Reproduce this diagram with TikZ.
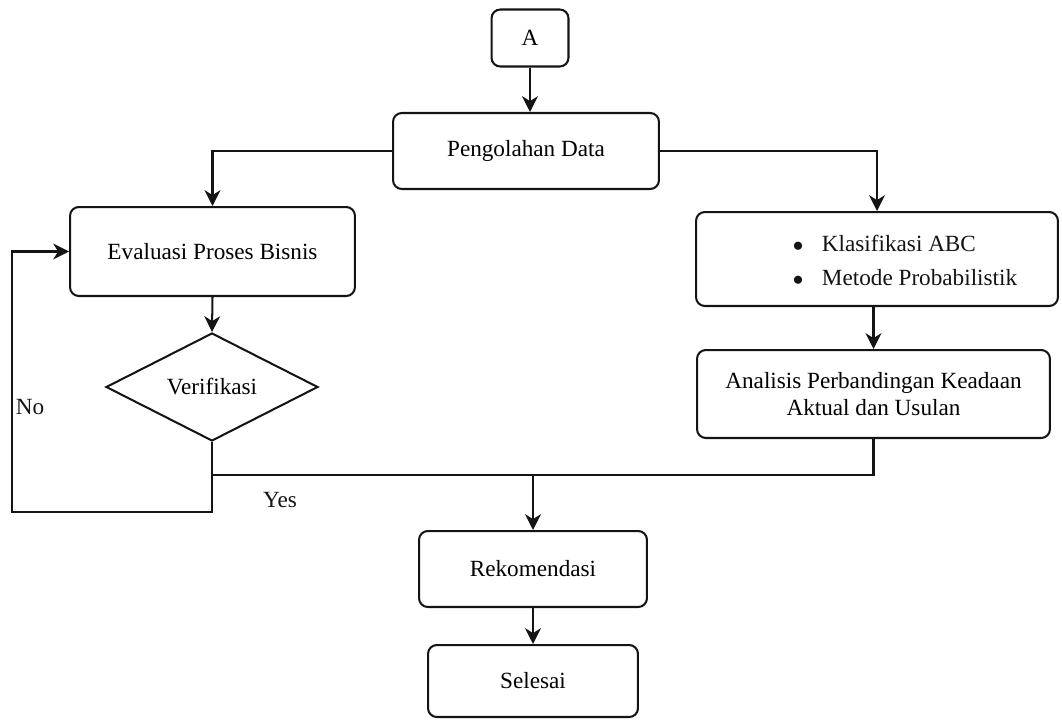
\documentclass[tikz,border=0pt]{standalone}
\usepackage{fontspec}
\setmainfont{Liberation Serif}
\usepackage{tikz}
\usetikzlibrary{shapes.geometric, arrows.meta, positioning, calc}
\definecolor{mydark}{RGB}{20,20,20}
\tikzset{
  block/.style={rectangle, draw=mydark, fill=white, align=center,
    rounded corners=5pt, line width=1.15pt, inner sep=0pt},
  decision/.style={diamond, draw=mydark, fill=white, align=center,
    line width=1.15pt, inner sep=0pt, shape aspect=2},
  arrow/.style={-{Stealth[length=9pt, width=9pt, inset=2.8pt]}, line width=1.15pt, color=mydark},
  line/.style={line width=1.15pt, color=mydark},
  lbl/.style={font=\fontsize{13.2}{15.4}\selectfont, text=mydark}
}

\begin{document}
\begin{tikzpicture}[x=0.02cm, y=-0.02cm, font=\fontsize{13.2}{15.4}\selectfont]
  \useasboundingbox (0,0) rectangle (1062,720);

  % Start connector
  \node[block, minimum width=1.54cm, minimum height=1.14cm] (A) at (530,38) {A};

  % Data processing
  \node[block, minimum width=5.32cm, minimum height=1.52cm] (peng) at (526,151) {Pengolahan Data};

  % Left branch
  \node[block, minimum width=5.7cm, minimum height=1.78cm] (eval) at (212.5,251.5) {Evaluasi Proses Bisnis};
  \node[decision, minimum width=4.24cm, minimum height=2.16cm] (verif) at (212,387) {Verifikasi};

  % Right branch
  \node[block, minimum width=7.24cm, minimum height=1.88cm] (klas) at (877,259) {};
  \node[lbl, align=left] (klastext) at (905,260)
    {$\bullet$\hspace{0.8em}Klasifikasi ABC\\[4pt] $\bullet$\hspace{0.8em}Metode Probabilistik};
  \node[block, minimum width=7.06cm, minimum height=1.76cm] (anal) at (873.5,394)
    {Analisis Perbandingan Keadaan\\ Aktual dan Usulan};

  % Result
  \node[block, minimum width=4.56cm, minimum height=1.52cm] (rekom) at (533,569) {Rekomendasi};
  \node[block, minimum width=4.2cm, minimum height=1.44cm] (selesai) at (533,681) {Selesai};

  % Helper points
  \coordinate (join) at (533,475);
  \coordinate (loopbot) at (12,512);

  % Connectors
  \draw[arrow] (A.south) -- (A.south |- peng.north);
  \draw[arrow] (peng.west) -| (eval.north);
  \draw[arrow] (peng.east) -| (klas.north);
  \draw[arrow] (eval.south) -- (verif.north);
  \draw[arrow] (anal.north |- klas.south) -- (anal.north);
  \draw[arrow] (verif.south) |- (loopbot) |- (eval.west);
  \draw[line] (verif.south |- join) -- (anal.south |- join) -- (anal.south);
  \draw[arrow] (join) -- (rekom.north);
  \draw[arrow] (rekom.south) -- (selesai.north);

  % Labels
  \node[lbl] (no) at (30,407) {No};
  \node[lbl] (yes) at (280,500) {Yes};
\end{tikzpicture}
\end{document}
